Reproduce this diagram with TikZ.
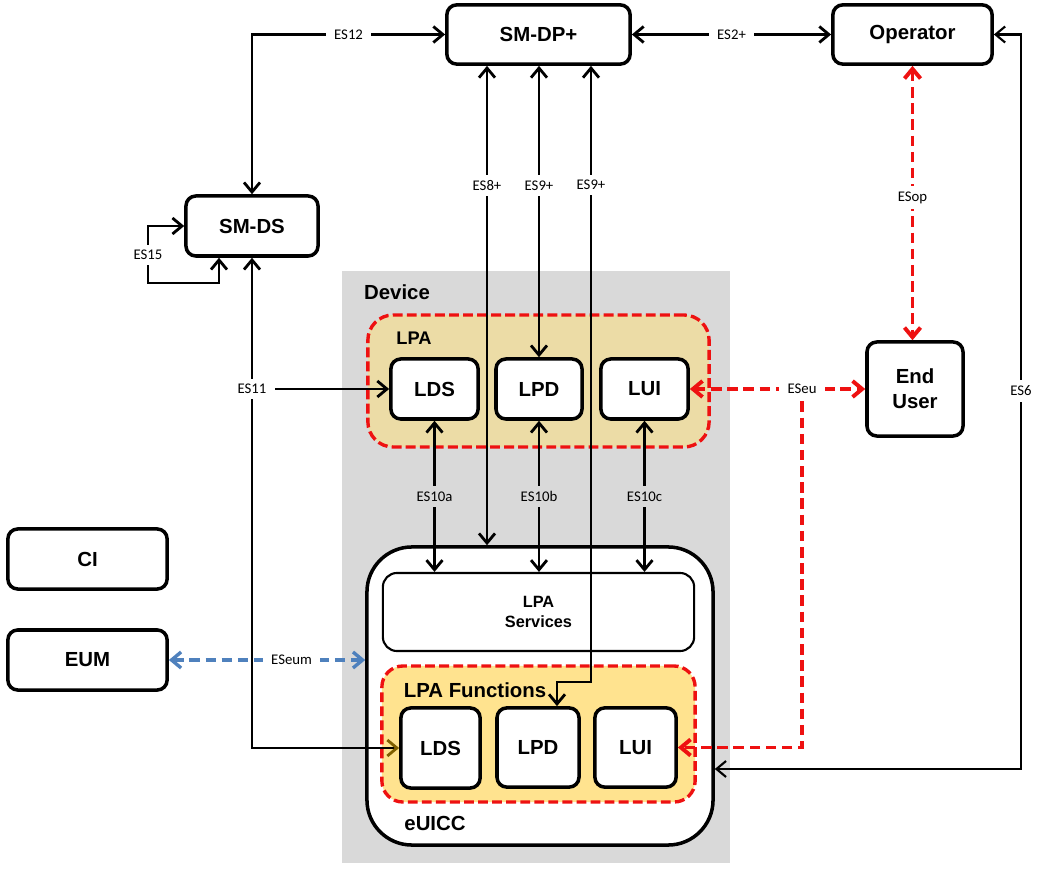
\documentclass[tikz,border=0pt]{standalone}
\usepackage{fontspec}
\setmainfont{Liberation Sans}
\newfontfamily\lblfont{Carlito}
\usetikzlibrary{arrows.meta,positioning,calc}

\definecolor{devgray}{HTML}{D9D9D9}
\definecolor{lpatan}{HTML}{ECDCA6}
\definecolor{lpfyel}{HTML}{FFE38F}
\definecolor{ifred}{HTML}{EE1111}
\definecolor{ifblue}{HTML}{4F81BD}
\definecolor{tipolive}{HTML}{7F6000}

\tikzset{
  >={Straight Barb[length=2.4mm,width=4mm]},
  bigtxt/.style={font=\bfseries\fontsize{14.5}{17.5}\selectfont, align=center},
  box/.style={bigtxt, draw, line width=2.5pt, rounded corners=7pt, fill=white, inner sep=0pt},
  lpazone/.style={draw=ifred, line width=2.4pt, dash pattern=on 7pt off 3pt, rounded corners=18pt},
  lbl/.style={fill=white, inner xsep=6pt, inner ysep=4pt, font=\lblfont\fontsize{10.5}{12}\selectfont},
  link/.style={line width=2pt, <->},
  redlink/.style={draw=ifred, line width=2.8pt, dash pattern=on 7.5pt off 4pt, <->},
  bluelink/.style={draw=ifblue, line width=2.4pt, dash pattern=on 7.5pt off 4pt, <->}
}

\begin{document}
\begin{tikzpicture}[x=0.025cm, y=-0.025cm]
\useasboundingbox (0,0) rectangle (1040,872);

% device
\fill[devgray] (342,271) rectangle (730,863);
\node[bigtxt] (devlbl) at (397,292) {Device};

% LPA in the device
\node[lpazone, fill=lpatan, minimum width=8.53cm, minimum height=3.3cm] (lpa) at (538.5,381) {};
\node[font=\bfseries\fontsize{13}{15}\selectfont] (lpalbl) at (414,338) {LPA};
\node[box, minimum width=2.18cm, minimum height=1.5cm] (ldsa) at (434.5,389) {LDS};
\node[box, minimum width=2.15cm, minimum height=1.5cm] (lpda) at (539,389) {LPD};
\node[box, minimum width=2.18cm, minimum height=1.5cm] (luia) at (644.5,389) {LUI};

% eUICC
\node[draw, line width=2.5pt, rounded corners=32pt, fill=white, minimum width=8.65cm, minimum height=7.45cm] (euicc) at (540,696) {};
\node[bigtxt] (euicclbl) at (435,823) {eUICC};
\node[draw, line width=1.5pt, rounded corners=10pt, minimum width=7.78cm, minimum height=1.95cm, align=center, font=\bfseries\fontsize{11.6}{14}\selectfont] (svc) at (538.5,612) {LPA\\Services};
\node[lpazone, fill=lpfyel, rounded corners=15pt, minimum width=7.83cm, minimum height=3.4cm] (lpf) at (538.5,734) {};
\node[bigtxt] (lpflbl) at (475,690) {LPA Functions};
\node[box, minimum width=1.98cm, minimum height=2cm] (ldsb) at (440.5,748) {LDS};
\node[box, minimum width=2.05cm, minimum height=1.98cm] (lpdb) at (538,747.5) {LPD};
\node[box, minimum width=2.03cm, minimum height=1.98cm] (luib) at (635.5,747.5) {LUI};

% outside
\node[box, minimum width=4.58cm, minimum height=1.48cm] (dp) at (538.5,34.5) {SM-DP+};
\node[box, minimum width=3.98cm, minimum height=1.48cm] (op) at (912.5,34.5) {Operator};
\node[box, minimum width=3.3cm, minimum height=1.5cm] (sds) at (252,226) {SM-DS};
\node[box, minimum width=2.4cm, minimum height=2.35cm] (eu) at (915,389) {End\\User};
\node[box, minimum width=3.98cm, minimum height=1.5cm] (ci) at (87.5,559) {CI};
\node[box, minimum width=3.98cm, minimum height=1.5cm] (eum) at (87.5,660) {EUM};

% bends
\coordinate (x8) at (487,0);
\coordinate (x9) at (591,0);
\coordinate (x15) at (219,0);
\coordinate (l15) at (148,283);
\coordinate (k9) at (557,682);
\coordinate (c11) at (252,748);
\coordinate (e6) at (1021,769);

% interfaces
\draw[link] (sds.north) |- (dp.west) node[lbl, pos=0.75] (es12) {ES12};
\draw[link] (dp.east) -- (op.west) node[lbl, midway] (es2) {ES2+};
\draw[link] (sds.west) -| (l15) -| (sds.south -| x15);
\node[lbl] (es15) at (148,255) {ES15};
\draw[line width=2pt, {Straight Barb[length=2.4mm,width=4mm]}-{Straight Barb[length=2.4mm,width=4mm,color=tipolive]}] (sds.south) -- (c11) -- (ldsb.west);
\node[lbl] (es11) at (252,389) {ES11};
\draw[line width=2pt, ->] (es11.east) -- (ldsa.west);
\draw[link] (dp.south -| x8) -- (euicc.north -| x8) node[lbl, pos=0.25] (es8) {ES8+};
\draw[link] (dp.south -| lpda) -- (lpda.north) node[lbl, pos=0.41] (es9a) {ES9+};
\draw[link] (dp.south -| x9) -- (x9 |- k9) -- (k9) -- (k9 |- lpdb.north);
\node[lbl] (es9b) at (591,185) {ES9+};
\draw[link] (ldsa.south) -- (ldsa.south |- svc.north) node[lbl, fill=devgray, midway] (es10a) {ES10a};
\draw[link] (lpda.south) -- (lpda.south |- svc.north) node[lbl, fill=devgray, midway] (es10b) {ES10b};
\draw[link] (luia.south) -- (luia.south |- svc.north) node[lbl, fill=devgray, midway] (es10c) {ES10c};
\draw[bluelink] (eum.east) -- (eum.east -| euicc.west) node[lbl, pos=0.625] (eseum) {ESeum};
\draw[redlink] (op.south) -- (op.south |- eu.north) node[lbl, pos=0.48] (esop) {ESop};
\draw[redlink] (luia.east) -- (eu.west) node[lbl, pos=0.64] (eseu) {ESeu};
\draw[redlink, ->] (eseu.south) |- (luib.east);
\draw[link, line width=1.5pt] (op.east) -| (e6) -- (e6 -| euicc.east);
\node[lbl] (es6) at (1021,391) {ES6};
\end{tikzpicture}
\end{document}
